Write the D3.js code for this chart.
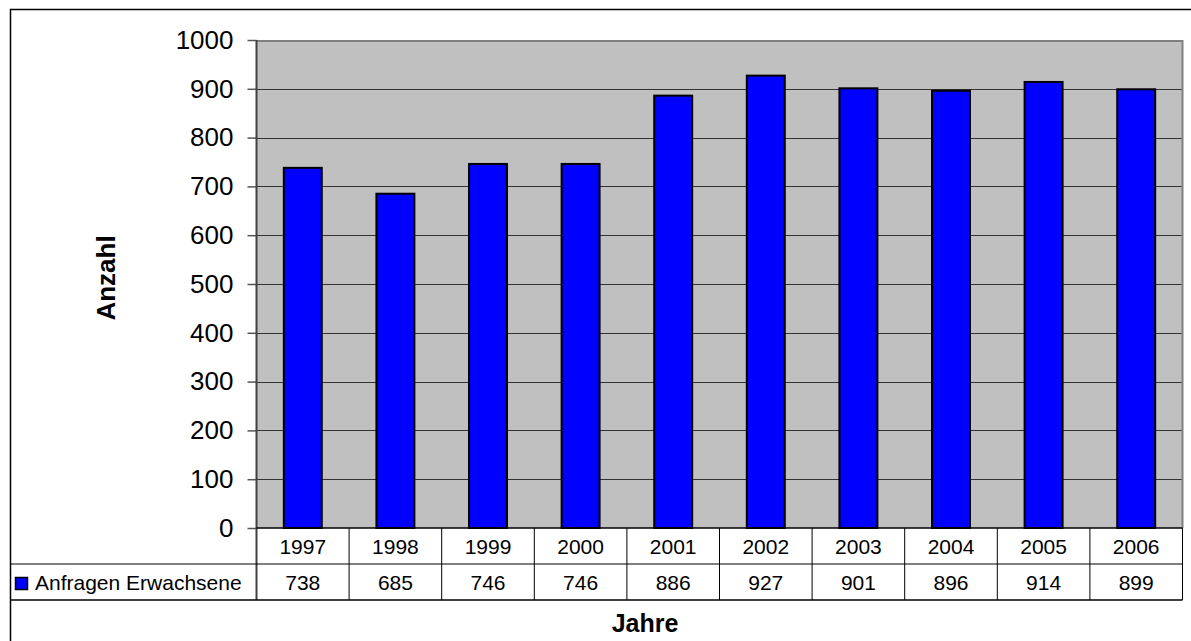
<!DOCTYPE html>
<html>
<head>
<meta charset="utf-8">
<script src="https://cdn.jsdelivr.net/npm/d3@7"></script>
<style>
  html, body { margin: 0; padding: 0; background: #fff; }
  svg { display: block; font-family: Arial, "Liberation Sans", sans-serif; }
</style>
</head>
<body>
<svg id="chart" width="1191" height="641"></svg>
<script>
// Anfragen von Erwachsenen pro Jahr
const years = ["1997", "1998", "1999", "2000", "2001", "2002", "2003", "2004", "2005", "2006"];
const values = [738, 685, 746, 746, 886, 927, 901, 896, 914, 899];
const yTicks = [0, 100, 200, 300, 400, 500, 600, 700, 800, 900, 1000];
const seriesName = "Anfragen Erwachsene";

const svg = d3.select("#chart");
const plot = { left: 256.5, right: 1182.5, top: 40, bottom: 528 };
const rowH = 36;
const fontFam = "Arial, 'Liberation Sans', sans-serif";

const x = d3.scaleBand().domain(years).range([plot.left, plot.right]).paddingInner(0).paddingOuter(0);
const y = d3.scaleLinear().domain([0, 1000]).range([plot.bottom, plot.top]);

// outer frame
svg.append("rect")
  .attr("x", 10.5).attr("y", 9.5).attr("width", 1200).attr("height", 700)
  .attr("fill", "#fff").attr("stroke", "#000").attr("stroke-width", 1.5);

// plot background
svg.append("rect")
  .attr("x", plot.left).attr("y", plot.top)
  .attr("width", plot.right - plot.left).attr("height", plot.bottom - plot.top)
  .attr("fill", "#c0c0c0");

// grid lines
svg.append("g").selectAll("line").data(yTicks.filter(d => d > 0 && d < 1000)).join("line")
  .attr("x1", plot.left).attr("x2", plot.right)
  .attr("y1", d => Math.round(y(d)) + 0.5).attr("y2", d => Math.round(y(d)) + 0.5)
  .attr("stroke", "#333").attr("stroke-width", 1);

// plot border top/right
svg.append("path")
  .attr("d", `M${plot.left},${plot.top + 1}H${plot.right}V${plot.bottom}`)
  .attr("fill", "none").attr("stroke", "#808080").attr("stroke-width", 2);

// bars
const barW = x.bandwidth() * 0.41;
svg.append("g").selectAll("rect").data(values).join("rect")
  .attr("x", (d, i) => x(years[i]) + (x.bandwidth() - barW) / 2)
  .attr("y", d => y(d))
  .attr("width", barW)
  .attr("height", d => y(0) - y(d))
  .attr("fill", "#0000ff")
  .attr("stroke", "#000").attr("stroke-width", 2);

// y axis
const yAxis = d3.axisLeft(y).tickValues(yTicks).tickSize(9).tickPadding(14).tickFormat(d3.format("d"));
const ga = svg.append("g").attr("transform", `translate(${plot.left},0)`).call(yAxis);
ga.select(".domain").remove();
ga.selectAll(".tick line").attr("stroke", "#555").attr("stroke-width", 1.5);
ga.selectAll(".tick text").attr("font-size", 26).attr("fill", "#000").attr("font-family", fontFam);
svg.append("line")
  .attr("x1", plot.left).attr("x2", plot.left)
  .attr("y1", plot.top).attr("y2", plot.bottom + 2 * rowH)
  .attr("stroke", "#404040").attr("stroke-width", 2);

// data table
const tbl = svg.append("g");
const tableBottom = plot.bottom + 2 * rowH;
tbl.append("line").attr("x1", plot.left).attr("x2", plot.right)
  .attr("y1", plot.bottom).attr("y2", plot.bottom).attr("stroke", "#000").attr("stroke-width", 1.5);
tbl.append("line").attr("x1", 10.5).attr("x2", plot.right)
  .attr("y1", plot.bottom + rowH).attr("y2", plot.bottom + rowH).attr("stroke", "#000").attr("stroke-width", 1);
tbl.append("line").attr("x1", 10.5).attr("x2", plot.right)
  .attr("y1", tableBottom).attr("y2", tableBottom).attr("stroke", "#000").attr("stroke-width", 1.5);
tbl.selectAll(".vline").data(years).join("line")
  .attr("class", "vline")
  .attr("x1", d => x(d) + x.bandwidth()).attr("x2", d => x(d) + x.bandwidth())
  .attr("y1", plot.bottom).attr("y2", tableBottom)
  .attr("stroke", "#000").attr("stroke-width", 1);
tbl.selectAll(".yr").data(years).join("text")
  .attr("class", "yr")
  .attr("x", d => x(d) + x.bandwidth() / 2)
  .attr("y", plot.bottom + 25.5)
  .attr("text-anchor", "middle").attr("font-size", 21).text(d => d);
tbl.selectAll(".val").data(values).join("text")
  .attr("class", "val")
  .attr("x", (d, i) => x(years[i]) + x.bandwidth() / 2)
  .attr("y", plot.bottom + rowH + 25.5)
  .attr("text-anchor", "middle").attr("font-size", 21).text(d => d);

// legend key
tbl.append("rect").attr("x", 15.5).attr("y", 577.5).attr("width", 12).attr("height", 12)
  .attr("fill", "#0000ff").attr("stroke", "#000").attr("stroke-width", 1.5);
tbl.append("text").attr("x", 35).attr("y", plot.bottom + rowH + 25.5)
  .attr("font-size", 21).text(seriesName);

// axis titles
svg.append("text").attr("x", 645).attr("y", 632)
  .attr("text-anchor", "middle").attr("font-size", 25).attr("font-weight", "bold").text("Jahre");
svg.append("text")
  .attr("transform", `translate(115,278) rotate(-90)`)
  .attr("text-anchor", "middle").attr("font-size", 26).attr("font-weight", "bold").text("Anzahl");
</script>
</body>
</html>
